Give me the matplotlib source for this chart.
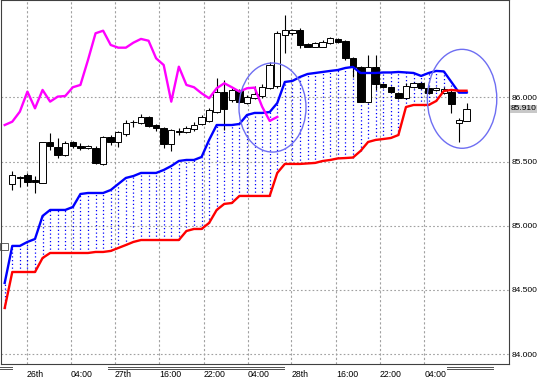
import numpy as np
import matplotlib.pyplot as plt
import matplotlib.transforms as mtransforms
from matplotlib.patches import Ellipse, Rectangle
from matplotlib.lines import Line2D

# candle data, one bar per index 0..60
opens = [85.325, 85.380, 85.395, 85.356, 85.335, 85.648, 85.613, 85.551, 85.648, 85.621,
         85.609, 85.608, 85.478, 85.693, 85.652, 85.714, 85.804, 85.800, 85.843, 85.784,
         85.757, 85.636, 85.741, 85.730, 85.753, 85.792, 85.815, 85.885, 86.041, 85.979,
         86.053, 85.958, 85.994, 86.006, 86.072, 86.088, 86.485, 86.500, 86.524, 86.415,
         86.395, 86.395, 86.422, 86.454, 86.438, 86.303, 86.236, 85.966, 86.238, 86.103,
         86.080, 86.037, 85.994, 86.080, 86.111, 86.070, 86.057, 86.033, 86.043, 85.800,
         85.818]
highs = [85.426, 85.387, 85.411, 85.387, 85.652, 85.722, 85.683, 85.656, 85.660, 85.644,
         85.629, 85.621, 85.699, 85.706, 85.738, 85.823, 85.823, 85.870, 85.854, 85.792,
         85.769, 85.753, 85.761, 85.776, 85.808, 85.862, 85.917, 86.150, 86.134, 86.072,
         86.064, 86.018, 86.088, 86.103, 86.274, 86.516, 86.640, 86.531, 86.539, 86.422,
         86.430, 86.446, 86.469, 86.461, 86.446, 86.313, 86.243, 86.329, 86.329, 86.111,
         86.088, 86.041, 86.111, 86.119, 86.119, 86.080, 86.080, 86.080, 86.057, 85.839,
         85.953]
lows = [85.278, 85.302, 85.310, 85.255, 85.333, 85.590, 85.527, 85.543, 85.605, 85.590,
        85.598, 85.481, 85.473, 85.629, 85.613, 85.699, 85.769, 85.792, 85.769, 85.738,
        85.605, 85.582, 85.706, 85.722, 85.738, 85.784, 85.808, 85.878, 85.745, 85.963,
        85.955, 85.948, 85.987, 85.998, 86.064, 86.072, 86.345, 86.485, 86.384, 86.391,
        86.391, 86.391, 86.415, 86.426, 86.290, 86.158, 85.963, 85.959, 86.057, 86.072,
        86.033, 85.987, 85.987, 86.072, 86.064, 86.025, 86.049, 86.025, 85.878, 85.654,
        85.815]
closes = [85.395, 85.372, 85.341, 85.337, 85.650, 85.617, 85.551, 85.647, 85.621, 85.609,
          85.617, 85.486, 85.693, 85.654, 85.726, 85.802, 85.808, 85.847, 85.780, 85.757,
          85.636, 85.745, 85.730, 85.761, 85.784, 85.847, 85.901, 86.041, 85.909, 86.057,
          85.967, 86.000, 86.025, 86.082, 86.251, 86.500, 86.524, 86.524, 86.407, 86.395,
          86.419, 86.434, 86.459, 86.432, 86.306, 86.236, 85.966, 86.238, 86.103, 86.080,
          86.041, 85.994, 86.088, 86.111, 86.070, 86.033, 86.072, 86.068, 85.948, 85.823,
          85.910]

# spans start one bar left of the first candle (index -1)
blue_span = [84.555, 84.843, 84.843, 84.874, 84.897, 85.076, 85.123, 85.123, 85.123, 85.146,
             85.247, 85.255, 85.255, 85.255, 85.278, 85.325, 85.372, 85.387, 85.411, 85.411,
             85.411, 85.434, 85.465, 85.504, 85.512, 85.512, 85.535, 85.668, 85.784, 85.784,
             85.784, 85.792, 85.862, 85.878, 85.878, 85.885, 85.955, 86.119, 86.127, 86.158,
             86.181, 86.189, 86.197, 86.205, 86.212, 86.228, 86.236, 86.189, 86.189, 86.189,
             86.193, 86.193, 86.197, 86.193, 86.189, 86.166, 86.189, 86.205, 86.201, 86.119,
             86.036, 86.036]
red_span = [84.360, 84.640, 84.640, 84.640, 84.640, 84.749, 84.788, 84.788, 84.788, 84.788,
            84.788, 84.788, 84.796, 84.796, 84.804, 84.827, 84.850, 84.874, 84.889, 84.889,
            84.889, 84.889, 84.889, 84.889, 84.959, 84.975, 84.975, 85.022, 85.123, 85.170,
            85.177, 85.232, 85.232, 85.232, 85.232, 85.232, 85.411, 85.481, 85.481, 85.481,
            85.485, 85.489, 85.504, 85.512, 85.524, 85.527, 85.531, 85.582, 85.652, 85.668,
            85.675, 85.683, 85.706, 85.924, 85.940, 85.940, 85.940, 85.971, 86.049, 86.057,
            86.051, 86.051]
chikou = [85.784, 85.810, 85.888, 86.044, 85.914, 86.057, 85.966, 86.005, 86.010, 86.078,
          86.096, 86.290, 86.498, 86.518, 86.407, 86.386, 86.386, 86.425, 86.454, 86.440,
          86.303, 86.251, 85.966, 86.238, 86.096, 86.078, 86.031, 85.992, 86.070, 86.109,
          86.078, 86.044, 86.070, 86.075, 85.927, 85.816, 85.847]

time_labels = ['26th', '04:00', '27th', '16:00', '22:00', '04:00', '28th', '16:00', '22:00', '04:00']
time_pos = [1.94, 7.75, 13.58, 19.39, 25.26, 31.07, 36.88, 42.76, 48.57, 54.44]
price_ticks = [84.0, 84.5, 85.0, 85.5, 86.0]
last_price = 85.910

o, h, l, c = map(np.array, (opens, highs, lows, closes))
bars = np.arange(len(c))
span_x = np.arange(len(blue_span)) - 1
chikou_x = np.arange(len(chikou)) - 1

fig = plt.figure(figsize=(5.37, 3.79), dpi=100)
ax = fig.add_axes([1/537, 15/379, 508/537, 364/379])
ax.set_xlim(-1.49, 65.61)
ax.set_ylim(83.924, 86.757)

# grid
for g in time_pos:
    ax.axvline(g, color='#a0a0a0', lw=0.8, ls=(0, (2, 2)), zorder=0)
for p in price_ticks:
    ax.axhline(p, color='#a0a0a0', lw=0.8, ls=(0, (1.5, 2)), zorder=0)

# cloud hatching
ax.vlines(span_x, red_span, blue_span, colors='#0000ff', linestyles=(0, (1, 2)), lw=0.9, zorder=1)

# candles
up = c >= o
ax.vlines(bars, l, h, color='black', lw=0.8, zorder=2)
ax.bar(bars, np.maximum(np.abs(c - o), 0.002), bottom=np.minimum(o, c), width=0.85,
       color=np.where(up, 'white', 'black'), edgecolor='black', lw=0.7, zorder=3)

# lines
ax.plot(span_x, blue_span, color='#0000ff', lw=1.7, zorder=4)
ax.plot(span_x, red_span, color='#ff0000', lw=1.7, zorder=5)
ax.plot(chikou_x, chikou, color='#ff00ff', lw=1.7, zorder=4)

# marked areas
ax.add_patch(Ellipse((34.37, 85.920), 8.85, 0.693, fill=False, ec='#6e6ef2', lw=1.0, zorder=6))
ax.add_patch(Ellipse((59.41, 85.988), 9.17, 0.770, fill=False, ec='#6e6ef2', lw=1.0, zorder=6))
ax.add_patch(Rectangle((-1.62, 84.815), 1.0, 0.047, fill=False, ec='#606060', lw=0.7, clip_on=False))

for s in ax.spines.values():
    s.set_color('#404040')
    s.set_linewidth(0.8)

ax.set_xticks(time_pos)
ax.set_xticklabels(time_labels, ha='left', fontsize=6.3, family='Liberation Sans')
ax.tick_params(axis='x', length=0, pad=4.5)
ax.yaxis.tick_right()
ax.set_yticks(price_ticks)
ax.set_yticklabels(['%.3f' % p for p in price_ticks], fontsize=6, family='Liberation Sans')
ax.tick_params(axis='y', length=0, pad=1.8)

trans = mtransforms.blended_transform_factory(ax.transAxes, ax.transData)
ax.text(1.004, last_price, '%.3f' % last_price, transform=trans, ha='left', va='center',
        fontsize=6, family='Liberation Sans',
        bbox=dict(facecolor='#c8c8c8', edgecolor='none', pad=0.5))

# separator marks under the time axis
for x0, x1 in [(0, 12), (108, 284), (447, 493)]:
    for yy in (366.5, 369):
        fig.add_artist(Line2D([x0/537, x1/537], [1 - yy/379, 1 - yy/379],
                              color='#505050', lw=0.7))

fig.savefig('out.png', dpi=100)
